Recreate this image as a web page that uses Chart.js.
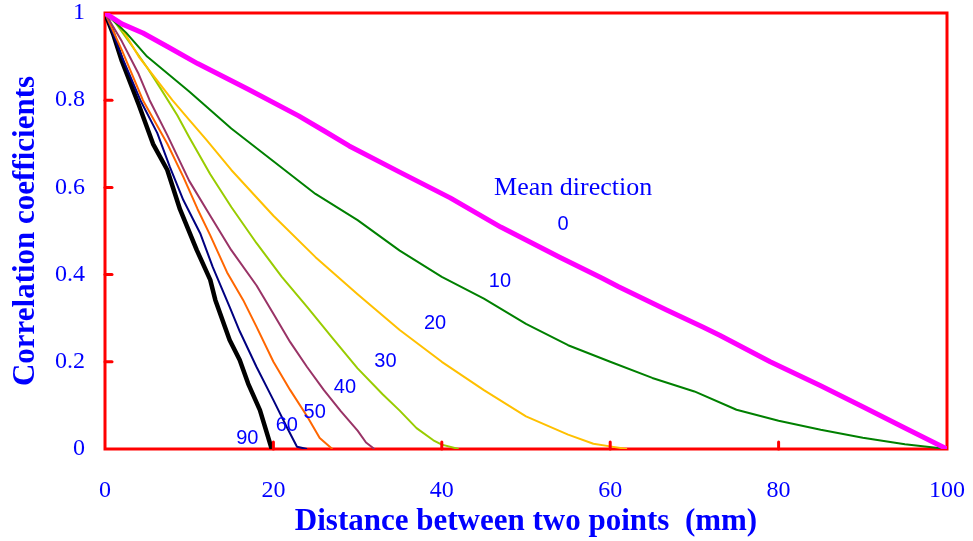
<!DOCTYPE html>
<html>
<head>
<meta charset="utf-8">
<script src="https://cdn.jsdelivr.net/npm/chart.js@4/dist/chart.umd.min.js"></script>
<style>
  html, body { margin: 0; padding: 0; background: #fff; }
  #corrChart { display: block; }
</style>
</head>
<body>
<canvas id="corrChart" width="973" height="541"></canvas>
<script>
// distance (mm) and correlation coefficient for each mean direction
var dist0 = [0, 2, 4.5, 7.5, 11, 17, 23, 26, 29, 35, 41, 47, 54, 59, 61, 66.7, 71, 73, 79, 85, 90, 95, 100];
var corr0 = [1, 0.975, 0.954, 0.922, 0.884, 0.825, 0.764, 0.73, 0.695, 0.635, 0.576, 0.509, 0.44, 0.392, 0.372, 0.319, 0.28, 0.261, 0.2, 0.145, 0.097, 0.048, 0];

var dist10 = [0, 2.5, 5, 10, 15, 20, 25, 30, 35, 40, 45, 50, 55, 60, 65, 70, 75, 80, 85, 90, 95, 100];
var corr10 = [1, 0.955, 0.9, 0.82, 0.735, 0.66, 0.585, 0.525, 0.455, 0.395, 0.345, 0.287, 0.238, 0.2, 0.163, 0.132, 0.09, 0.065, 0.044, 0.026, 0.011, 0];

var dist20 = [0, 2, 4, 6, 8, 10, 12, 15, 20, 25, 30, 35, 40, 45, 50, 55, 58, 60, 62];
var corr20 = [1, 0.965, 0.9, 0.85, 0.80, 0.755, 0.71, 0.64, 0.535, 0.44, 0.355, 0.273, 0.2, 0.135, 0.075, 0.033, 0.012, 0.006, 0];

var dist30 = [0, 1, 3.3, 5, 6.5, 8.6, 10, 12.5, 15, 18, 21, 24, 27, 30, 33, 35, 37, 39, 40, 42];
var corr30 = [1, 0.984, 0.922, 0.875, 0.83, 0.765, 0.715, 0.63, 0.555, 0.472, 0.395, 0.326, 0.255, 0.185, 0.125, 0.088, 0.048, 0.02, 0.01, 0];

var dist40 = [0, 2, 4, 5.3, 7.4, 10, 12.5, 15, 18, 20, 22, 24, 26, 28, 30, 31, 32];
var corr40 = [1, 0.935, 0.86, 0.80, 0.72, 0.615, 0.535, 0.456, 0.375, 0.31, 0.245, 0.188, 0.135, 0.087, 0.042, 0.015, 0];

var dist50 = [0, 2, 4.5, 7.4, 9.3, 11, 12.5, 14.5, 16.4, 18, 20, 22, 24, 25.5, 27];
var corr50 = [1, 0.915, 0.80, 0.70, 0.624, 0.55, 0.49, 0.405, 0.342, 0.28, 0.2, 0.135, 0.075, 0.025, 0];

var dist60 = [0, 2, 4.2, 6.2, 7.7, 9.3, 11.3, 12.8, 14.8, 16, 18, 20, 21.6, 22.8, 24];
var corr60 = [1, 0.90, 0.80, 0.725, 0.647, 0.571, 0.495, 0.417, 0.326, 0.27, 0.188, 0.112, 0.05, 0.005, 0];

var dist90 = [0, 1, 2, 3, 4, 5.7, 7.4, 8.9, 10.9, 12.5, 13.1, 14.8, 16, 17, 18.4, 19.8];
var corr90 = [1, 0.95, 0.89, 0.84, 0.79, 0.70, 0.64, 0.55, 0.456, 0.388, 0.342, 0.25, 0.204, 0.15, 0.089, 0];

var xTicks = [0, 20, 40, 60, 80, 100];
var yTicks = [0, 0.2, 0.4, 0.6, 0.8, 1];

// curve labels: text and where it sits (in data units)
var labelTexts = ['Mean direction', '0', '10', '20', '30', '40', '50', '60', '90'];
var labelX = [55.6, 54.4, 46.9, 39.2, 33.3, 28.5, 24.9, 21.6, 16.9];
var labelY = [0.599, 0.516, 0.385, 0.289, 0.2, 0.14, 0.083, 0.053, 0.025];

function pairUp(xs, ys) {
  return xs.map(function(x, i) { return {x: x, y: ys[i]}; });
}

function makeSet(name, xs, ys, color, width) {
  return {
    label: name,
    data: pairUp(xs, ys),
    borderColor: color,
    backgroundColor: color,
    borderWidth: width,
    pointRadius: 0,
    tension: 0,
    borderJoinStyle: 'round',
    fill: false
  };
}

var datasets = [
  makeSet('0', dist0, corr0, '#ff00ff', 5),
  makeSet('10', dist10, corr10, '#008000', 2),
  makeSet('20', dist20, corr20, '#ffc000', 2),
  makeSet('30', dist30, corr30, '#99cc00', 2),
  makeSet('40', dist40, corr40, '#993366', 2),
  makeSet('50', dist50, corr50, '#ff6600', 2),
  makeSet('60', dist60, corr60, '#000080', 2),
  makeSet('90', dist90, corr90, '#000000', 4.5)
];

// red frame, inward tick marks and the curve labels
var framePlugin = {
  id: 'frame',
  beforeDatasetsDraw: function(chart) {
    var a = chart.chartArea, c = chart.ctx;
    c.save();
    c.strokeStyle = '#ff0000';
    c.lineWidth = 3;
    c.strokeRect(a.left, a.top, a.right - a.left, a.bottom - a.top);
    c.restore();
  },
  afterDatasetsDraw: function(chart) {
    var a = chart.chartArea, c = chart.ctx;
    var xs = chart.scales.x, ys = chart.scales.y;
    c.save();
    c.strokeStyle = '#ff0000';
    c.lineWidth = 3;
    c.lineCap = 'round';
    xTicks.slice(1, -1).forEach(function(v) {
      var px = xs.getPixelForValue(v);
      c.beginPath();
      c.moveTo(px, a.bottom);
      c.lineTo(px, a.bottom - 7);
      c.stroke();
    });
    yTicks.slice(1, -1).forEach(function(v) {
      var py = ys.getPixelForValue(v);
      c.beginPath();
      c.moveTo(a.left, py);
      c.lineTo(a.left + 7, py);
      c.stroke();
    });
    c.fillStyle = '#0000ff';
    c.textAlign = 'center';
    c.textBaseline = 'middle';
    labelTexts.forEach(function(t, i) {
      c.font = i === 0 ? '26px "Liberation Serif", "Times New Roman", serif'
                       : '20px "Liberation Sans", Arial, sans-serif';
      c.fillText(t, xs.getPixelForValue(labelX[i]), ys.getPixelForValue(labelY[i]));
    });
    c.restore();
  }
};

var serif = '"Liberation Serif", "Times New Roman", serif';

new Chart(document.getElementById('corrChart').getContext('2d'), {
  type: 'line',
  data: { datasets: datasets },
  plugins: [framePlugin],
  options: {
    responsive: false,
    animation: false,
    devicePixelRatio: 1,
    layout: { padding: { left: 0, right: 26, top: 13, bottom: 0 } },
    plugins: { legend: { display: false }, tooltip: { enabled: false } },
    scales: {
      x: {
        type: 'linear', min: 0, max: 100,
        afterFit: function(s) { s.height = 92; s.paddingLeft = 0; s.paddingRight = 0; },
        grid: { display: false, drawTicks: false },
        border: { display: false },
        ticks: { stepSize: 20, color: '#0000ff', padding: 27, font: { family: serif, size: 24 } },
        title: {
          display: true, text: 'Distance between two points  (mm)', color: '#0000ff',
          font: { family: serif, size: 31, weight: 'bold' }, padding: { top: 0, bottom: 0 }
        }
      },
      y: {
        min: 0, max: 1,
        afterFit: function(s) { s.width = 105; s.paddingTop = 0; s.paddingBottom = 0; },
        grid: { display: false, drawTicks: false },
        border: { display: false },
        ticks: {
          stepSize: 0.2, color: '#0000ff', padding: 20, font: { family: serif, size: 24 },
          callback: function(v) { return String(Math.round(v * 10) / 10); }
        },
        title: {
          display: true, text: 'Correlation coefficients', color: '#0000ff',
          font: { family: serif, size: 31, weight: 'bold' }, padding: { top: 7, bottom: 0 }
        }
      }
    }
  }
});
</script>
</body>
</html>
